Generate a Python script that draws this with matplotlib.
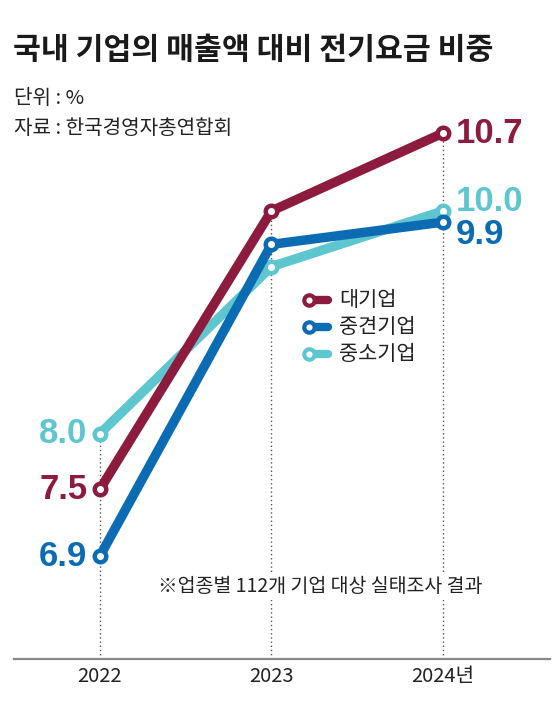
import matplotlib.pyplot as plt

plt.rcParams['font.family'] = ['Noto Sans CJK KR', 'DejaVu Sans']

years = [0, 1, 2]
year_labels = ['2022', '2023', '2024년']
series_names = ['대기업', '중견기업', '중소기업']
large = [7.5, 10.0, 10.7]
middle = [6.9, 9.7, 9.9]
small = [8.0, 9.5, 10.0]

c_large = '#8c1b3e'
c_middle = '#0b6cb4'
c_small = '#5ec6cf'

num_font = ['Liberation Sans', 'DejaVu Sans']

fig = plt.figure(figsize=(5.6, 7.17), dpi=100)
W, H = 560, 717

# axes: left 14px, right 550px, bottom line at 659px, top at 100px
ax = fig.add_axes([14 / W, (H - 659) / H, 536 / W, 559 / H])
ax.set_xlim(-0.501, 2.624)
ax.set_ylim(5.975, 10.997)
for s in ['top', 'left', 'right']:
    ax.spines[s].set_visible(False)
ax.spines['bottom'].set_color('#888888')
ax.spines['bottom'].set_linewidth(1.6)
ax.set_yticks([])
ax.set_xticks(years)
ax.set_xticklabels(year_labels, fontsize=14.5, color='#222222')
ax.tick_params(axis='x', length=0, pad=5)

# dotted guides
tops = [max(a, b, c) for a, b, c in zip(large, middle, small)]
ax.vlines(years, 5.975, tops, colors='#555555', linestyles=(0, (1, 2)), lw=1.0, zorder=1)

mk = dict(marker='o', markersize=8.3, markerfacecolor='white', markeredgewidth=3.2,
          solid_capstyle='round', solid_joinstyle='round', lw=6.8)
ax.plot(years, small, color=c_small, markeredgecolor=c_small, zorder=3, **mk)
ax.plot(years, middle, color=c_middle, markeredgecolor=c_middle, zorder=4, **mk)
ax.plot(years, large, color=c_large, markeredgecolor=c_large, zorder=5, **mk)

# value labels
lab = dict(fontsize=25, fontweight='bold', family=num_font, va='center',
           textcoords='offset points')
ax.annotate(f'{small[0]:.1f}', (years[0], small[0]), xytext=(-9, 0), ha='right', color=c_small, **lab)
ax.annotate(f'{large[0]:.1f}', (years[0], large[0]), xytext=(-9, 0), ha='right', color=c_large, **lab)
ax.annotate(f'{middle[0]:.1f}', (years[0], middle[0]), xytext=(-9, 0), ha='right', color=c_middle, **lab)
ax.annotate(f'{large[2]:.1f}', (years[2], large[2]), xytext=(9, 0), ha='left', color=c_large, **lab)
ax.annotate(f'{small[2]:.1f}', (years[2], small[2]), xytext=(9, 7), ha='left', color=c_small, **lab)
ax.annotate(f'{middle[2]:.1f}', (years[2], middle[2]), xytext=(9, -9), ha='left', color=c_middle, **lab)

# legend drawn by hand
for i, (name, col) in enumerate(zip(series_names, [c_large, c_middle, c_small])):
    yy = (H - (300 + 27 * i)) / H
    fig.add_artist(plt.Line2D([309 / W, 328 / W], [yy, yy], color=col, lw=6,
                              solid_capstyle='round', transform=fig.transFigure))
    fig.add_artist(plt.Line2D([309 / W], [yy], marker='o', markersize=7.5,
                              markerfacecolor='white', markeredgecolor=col,
                              markeredgewidth=3, transform=fig.transFigure))
    fig.text(339 / W, yy, name, fontsize=15, va='center', ha='left', color='#222222')

# note
fig.text(320 / W, (H - 587) / H, '※업종별 112개 기업 대상 실태조사 결과', fontsize=14,
         ha='center', va='center', color='#222222',
         bbox=dict(facecolor='white', edgecolor='none', pad=2), zorder=6)

# title and subtitles
fig.text(13 / W, (H - 50) / H, '국내 기업의 매출액 대비 전기요금 비중', fontsize=21.8,
         fontweight='bold', ha='left', va='center', color='#1a1a1a')
fig.text(14 / W, (H - 99) / H, '단위 : %', fontsize=14.5, ha='left', va='center', color='#222222')
fig.text(14 / W, (H - 129) / H, '자료 : 한국경영자총연합회', fontsize=14.5, ha='left', va='center',
         color='#222222')

fig.savefig('out.png', dpi=100)
